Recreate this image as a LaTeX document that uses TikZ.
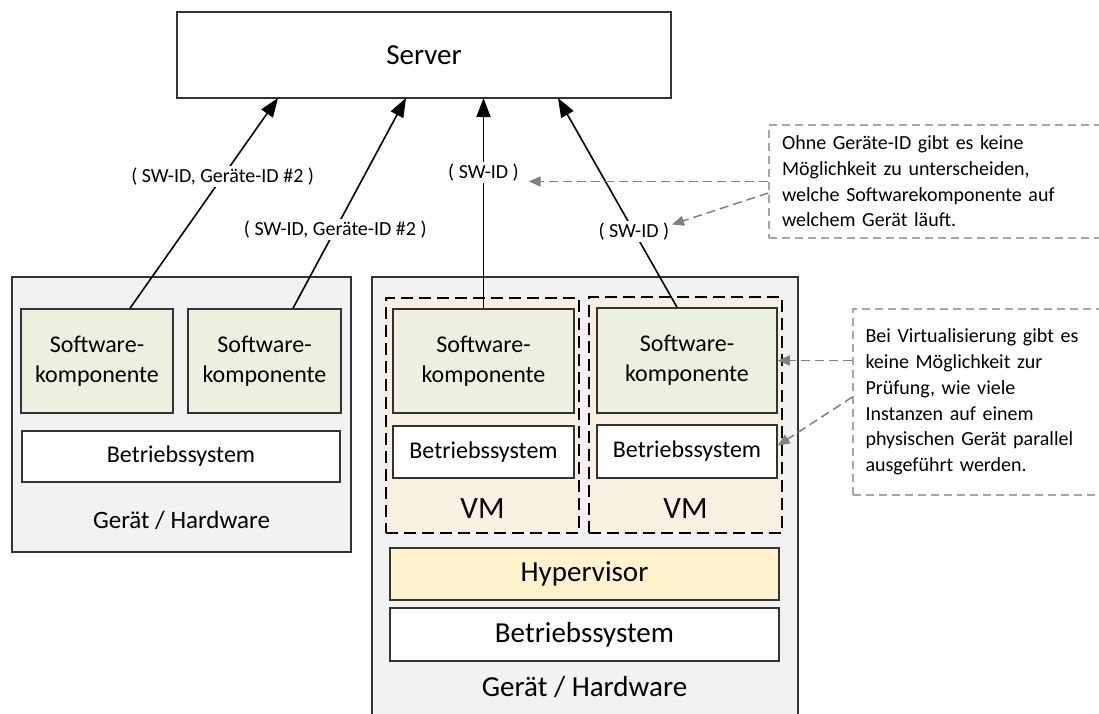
\documentclass[tikz,border=0pt]{standalone}
\usepackage{fontspec}
\setmainfont{Carlito}
\usetikzlibrary{arrows.meta}

\definecolor{edge}{HTML}{333333}
\definecolor{devfill}{HTML}{F2F2F2}
\definecolor{swfill}{HTML}{EBF1DE}
\definecolor{vmfill}{HTML}{F8F1E2}
\definecolor{hypfill}{HTML}{FFF2CC}
\definecolor{notegray}{HTML}{A6A6A6}
\definecolor{hintgray}{HTML}{808080}

\begin{document}
\begin{tikzpicture}
[x=1pt, y=-1pt, draw=black, line width=1.5pt,
box/.style={rectangle, draw=edge, line width=1.5pt, inner sep=0pt, align=center, font=\fontsize{24}{30}\selectfont},
device/.style={box, fill=devfill},
swbox/.style={box, fill=swfill},
osbox/.style={box, fill=white},
bigtext/.style={font=\fontsize{29}{35}\selectfont},
vmbox/.style={rectangle, draw=black, line width=1.5pt, dash pattern=on 12pt off 6pt, fill=vmfill, inner sep=0pt},
idlabel/.style={fill=white, inner sep=2pt, font=\fontsize{20}{24}\selectfont},
note/.style={rectangle, draw=notegray, line width=1.2pt, dash pattern=on 8pt off 5pt, align=left, inner ysep=0pt, font=\fontsize{20}{25.7}\selectfont},
msg/.style={-{Triangle[length=19pt,width=14pt]}, line width=1.6pt},
hint/.style={-{Triangle[length=12pt,width=10pt]}, draw=hintgray, line width=1.5pt, dash pattern=on 9pt off 5pt}]

\useasboundingbox (0,0) rectangle (1099,713);

\node[box, bigtext, minimum width=494pt, minimum height=86pt] (server) at (424,55) {Server};

\node[device, minimum width=339pt, minimum height=275pt] (dev1) at (181.5,414.5) {};
\node[swbox, minimum width=152pt, minimum height=104pt] (sw1) at (97,361) {Software-\\komponente};
\node[swbox, minimum width=153pt, minimum height=104pt] (sw2) at (264.5,361) {Software-\\komponente};
\node[osbox, minimum width=318pt, minimum height=51pt] (os1) at (181,456.5) {Betriebssystem};
\node[font=\fontsize{25}{30}\selectfont] (hw1) at (181.5,520) {Gerät / Hardware};

\node[device, minimum width=426pt, minimum height=439pt] (dev2) at (585,496.5) {};
\node[vmbox, minimum width=193pt, minimum height=235pt] (vm1) at (482.5,415.5) {};
\node[vmbox, minimum width=193pt, minimum height=236pt] (vm2) at (685.5,415) {};
\node[swbox, minimum width=181pt, minimum height=104pt] (sw3) at (483.5,361) {Software-\\komponente};
\node[swbox, minimum width=180pt, minimum height=105pt] (sw4) at (687,360.5) {Software-\\komponente};
\node[osbox, minimum width=181pt, minimum height=52pt] (os2) at (483.5,452) {Betriebssystem};
\node[osbox, minimum width=180pt, minimum height=53pt] (os3) at (687,451.5) {Betriebssystem};
\node[font=\fontsize{31}{37}\selectfont] (vmname1) at (482.5,509) {VM};
\node[font=\fontsize{31}{37}\selectfont] (vmname2) at (685.5,509) {VM};
\node[osbox, bigtext, fill=hypfill, minimum width=389pt, minimum height=52pt] (hyp) at (584.5,574) {Hypervisor};
\node[osbox, bigtext, minimum width=389pt, minimum height=53pt] (os4) at (584.5,634.5) {Betriebssystem};
\node[bigtext] (hw2) at (584.5,687) {Gerät / Hardware};

\coordinate (in1) at (278,98);
\coordinate (in2) at (406,98);
\coordinate (in3) at (483.5,98);
\coordinate (in4) at (558,98);

\draw[msg] ([xshift=33pt]sw1.north) -- node[idlabel, pos=0.626] (id1) {( SW-ID, Geräte-ID \#2 )} (in1);
\draw[msg] ([xshift=28.5pt]sw2.north) -- node[idlabel, pos=0.374] (id2) {( SW-ID, Geräte-ID \#2 )} (in2);
\draw[msg] (sw3.north) -- node[idlabel, pos=0.645] (id3) {( SW-ID )} (in3);
\draw[msg] ([xshift=-10pt]sw4.north) -- node[idlabel, pos=0.362] (id4) {( SW-ID )} (in4);

\node[note, text width=305pt, inner xsep=13pt, minimum height=113pt] (note1) at (934.5,181.5)
  {Ohne Geräte-ID gibt es keine\\Möglichkeit zu unterscheiden,\\welche Softwarekomponente auf\\welchem Gerät läuft.};
\node[note, text width=222pt, inner xsep=12.5pt, minimum height=186pt] (note2) at (976.5,402)
  {Bei Virtualisierung gibt es\\keine Möglichkeit zur\\Prüfung, wie viele\\Instanzen auf einem\\physischen Gerät parallel\\ausgeführt werden.};

\draw[hint] (note1.west) -- ([xshift=7pt]note1.west -| id3.east);
\draw[hint] ([yshift=-11.5pt]note1.west) -- ([yshift=7pt]id4.east);
\draw[hint] (sw4.east -| note2.west) -- (sw4.east);
\draw[hint] ([yshift=5pt]note2.west) -- ([yshift=6pt]os3.east);

\end{tikzpicture}
\end{document}
